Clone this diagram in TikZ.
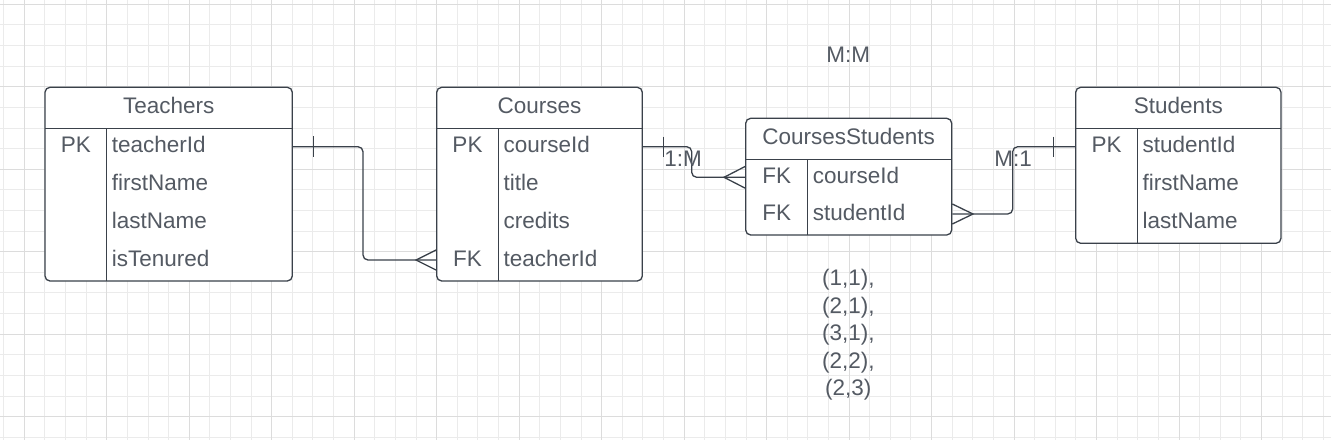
\documentclass[tikz,border=0pt]{standalone}
\usepackage{fontspec}
\setmainfont{Liberation Sans}
\usetikzlibrary{calc}
\definecolor{lc}{HTML}{3A414A}
\definecolor{tc}{HTML}{545A63}
\definecolor{gmn}{HTML}{EBEBEB}
\definecolor{gmj}{HTML}{DCDCDC}
\begin{document}
\begin{tikzpicture}[x=1pt,y=-1pt,
  ln/.style={draw=lc, line width=1.3pt},
  tbl/.style={ln, fill=white, rounded corners=5pt, inner sep=0pt},
  lbl/.style={text=tc, font=\fontsize{22.5}{27.5}\selectfont, inner sep=0pt},
  txt/.style={lbl, text height=16pt, text depth=4pt},
  fld/.style={txt, anchor=west},
  conn/.style={ln, rounded corners=5pt},
  gminor/.style={draw=gmn, line width=1pt},
  gmajor/.style={draw=gmj, line width=1pt}
]
\useasboundingbox (0,0) rectangle (1331,440);
\fill[white] (0,0) rectangle (1331,440);
% grid
\foreach \i in {0,...,64} {\draw[gminor] ({3.68+\i*20.62},0) -- ++(0,440);}
\foreach \i in {0,...,21} {\draw[gminor] (0,{4.3+\i*20.62}) -- ++(1331,0);}
\foreach \i in {0,...,15} {\draw[gmajor] ({24.3+\i*82.48},0) -- ++(0,440);}
\foreach \i in {0,...,5} {\draw[gmajor] (0,{4.3+\i*82.48}) -- ++(1331,0);}

% Teachers
\node[tbl, minimum width=247.3pt, minimum height=193.7pt] (teachers) at (168.65,184.15) {};
\node[txt] (teachersT) at (168.65,107.5) {Teachers};
\draw[ln] (45,128.3) -- (292.3,128.3);
\draw[ln] (106.7,128.3) -- (106.7,281);
\node[txt] (tk1) at (75.8,146.7) {PK};
\node[fld] (tf1) at (111.7,146.7) {teacherId};
\node[fld] (tf2) at (111.7,184) {firstName};
\node[fld] (tf3) at (111.7,222.3) {lastName};
\node[fld] (tf4) at (111.7,260) {isTenured};

% Courses
\node[tbl, minimum width=205.6pt, minimum height=193.7pt] (courses) at (539.5,184.15) {};
\node[txt] (coursesT) at (539.5,107.5) {Courses};
\draw[ln] (436.7,128.3) -- (642.3,128.3);
\draw[ln] (498.3,128.3) -- (498.3,281);
\node[txt] (ck1) at (467.5,146.7) {PK};
\node[txt] (ck4) at (467.5,260) {FK};
\node[fld] (cf1) at (503.5,146.7) {courseId};
\node[fld] (cf2) at (503.5,184) {title};
\node[fld] (cf3) at (503.5,222.3) {credits};
\node[fld] (cf4) at (503.5,260) {teacherId};

% CoursesStudents
\node[tbl, minimum width=206pt, minimum height=116.7pt] (cs) at (848.7,176.65) {};
\node[txt] (csT) at (848.7,138) {CoursesStudents};
\draw[ln] (745.7,159.3) -- (951.7,159.3);
\draw[ln] (807.7,159.3) -- (807.7,235);
\node[txt] (csk1) at (776.7,177.3) {FK};
\node[txt] (csk2) at (776.7,214) {FK};
\node[fld] (csf1) at (812.7,177.3) {courseId};
\node[fld] (csf2) at (812.7,214) {studentId};

% Students
\node[tbl, minimum width=205.3pt, minimum height=156pt] (students) at (1178.35,165.3) {};
\node[txt] (studentsT) at (1178.35,107.5) {Students};
\draw[ln] (1075.7,128.7) -- (1281,128.7);
\draw[ln] (1137.3,128.7) -- (1137.3,243.3);
\node[txt] (sk1) at (1106.5,146.7) {PK};
\node[fld] (sf1) at (1142.5,146.7) {studentId};
\node[fld] (sf2) at (1142.5,184) {firstName};
\node[fld] (sf3) at (1142.5,222.3) {lastName};

% connector Teachers -> Courses
\coordinate (j1) at (363,0);
\draw[conn] (teachers.east |- tf1) -| (j1 |- cf4) -- (courses.west |- cf4);
\draw[ln] ($(teachers.east |- tf1)+(20.5,-10.5)$) -- ($(teachers.east |- tf1)+(20.5,10.5)$);
\draw[ln] ($(courses.west |- cf4)+(0,-10)$) -- ($(courses.west |- cf4)+(-20,0)$) -- ($(courses.west |- cf4)+(0,10)$);

% connector Courses -> CoursesStudents
\coordinate (j2) at (691.7,0);
\draw[conn] (courses.east |- cf1) -| (j2 |- csf1) -- (cs.west |- csf1);
\draw[ln] ($(courses.east |- cf1)+(20.5,-10)$) -- ($(courses.east |- cf1)+(20.5,10)$);
\draw[ln] ($(cs.west |- csf1)+(0,-10.8)$) -- ($(cs.west |- csf1)+(-21,0)$) -- ($(cs.west |- csf1)+(0,10.8)$);

% connector CoursesStudents -> Students
\coordinate (j3) at (1012.7,0);
\draw[conn] (cs.east |- csf2) -| (j3 |- sf1) -- (students.west |- sf1);
\draw[ln] ($(cs.east |- csf2)+(0,-10)$) -- ($(cs.east |- csf2)+(20.6,0)$) -- ($(cs.east |- csf2)+(0,10)$);
\draw[ln] ($(students.west |- sf1)+(-21.4,-10)$) -- ($(students.west |- sf1)+(-21.4,10)$);

% labels
\node[lbl] (l1m) at (683,158.3) {1:M};
\node[lbl] (lm1) at (1013,158.3) {M:1};
\node[lbl] (lmm) at (848.3,55) {M:M};
\node[lbl, align=center] (pairs) at (848.3,335) {(1,1),\\(2,1),\\(3,1),\\(2,2),\\(2,3)};
\end{tikzpicture}
\end{document}
